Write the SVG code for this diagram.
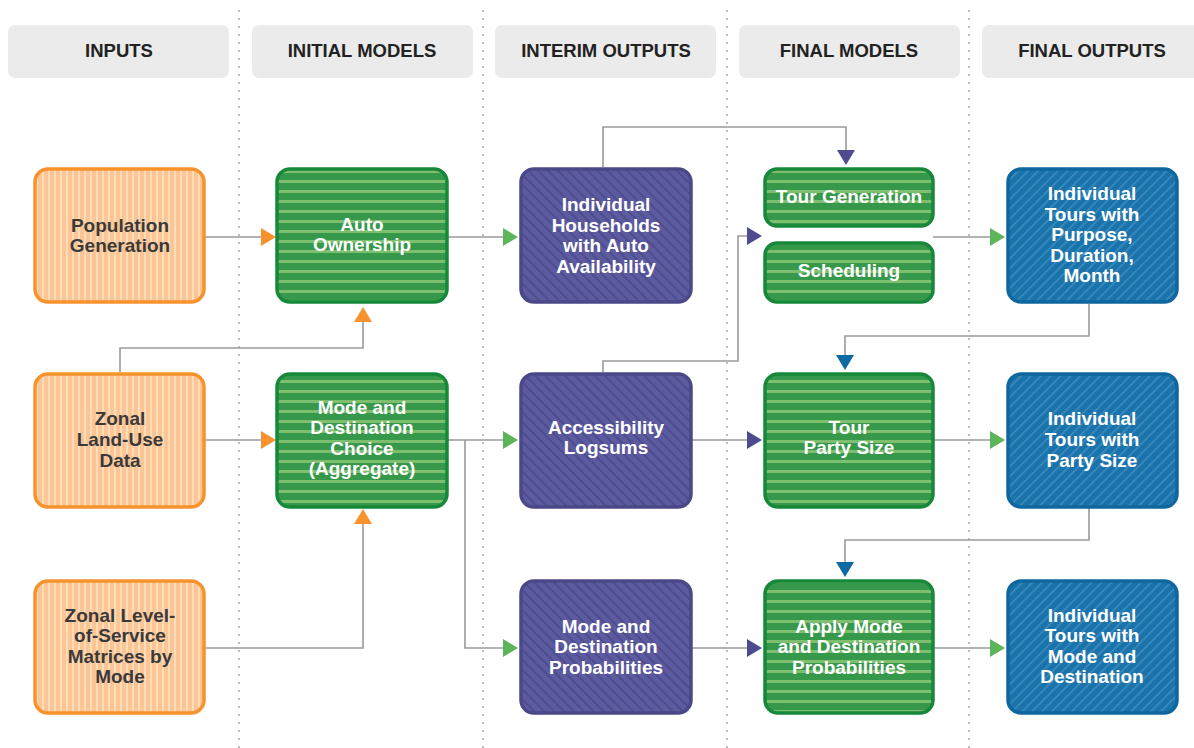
<svg xmlns="http://www.w3.org/2000/svg" width="1194" height="748" viewBox="0 0 1194 748">
<defs>
<pattern id="pOr" patternUnits="userSpaceOnUse" width="6" height="6">
<rect width="6" height="6" fill="#FBC594"/>
<rect x="0" width="2" height="6" fill="#FDDCBC"/>
</pattern>
<pattern id="pGr" patternUnits="userSpaceOnUse" width="10" height="10">
<rect width="10" height="10" fill="#36984A"/>
<rect y="0" width="10" height="3" fill="#7DBE6F"/>
</pattern>
<pattern id="pPu" patternUnits="userSpaceOnUse" width="7" height="7" patternTransform="rotate(-45)">
<rect width="7" height="7" fill="#5D5BA0"/>
<rect width="1.6" height="7" fill="#4B498A"/>
</pattern>
<pattern id="pBl" patternUnits="userSpaceOnUse" width="7" height="7" patternTransform="rotate(45)">
<rect width="7" height="7" fill="#1A73AB"/>
<rect width="1.6" height="7" fill="#3C8CC0"/>
</pattern>
</defs>
<style>
.hdr{fill:#EBEBEB}
.ht{font-family:"Liberation Sans",Arial,sans-serif;font-weight:bold;font-size:18.5px;fill:#222222;text-anchor:middle}
.dot{stroke:#BDBDBD;stroke-width:2;stroke-dasharray:2 6;fill:none}
.or{fill:url(#pOr);stroke:#F7922D;stroke-width:3.5}
.gr{fill:url(#pGr);stroke:#16883A;stroke-width:3.5}
.pu{fill:url(#pPu);stroke:#4A4888;stroke-width:3.5}
.bl{fill:url(#pBl);stroke:#0E679F;stroke-width:3.5}
.t{font-family:"Liberation Sans",Arial,sans-serif;font-weight:bold;font-size:19px;text-anchor:middle;fill:#FFFFFF}
.td{fill:#3A3A3A}
.ln{stroke:#9A9A9A;stroke-width:1.6;fill:none}
.aO{fill:#F7922D}
.aG{fill:#5DB55A}
.aP{fill:#4E4B8E}
.aB{fill:#0E6AA3}
</style>
<g id="headers">
<rect class="hdr" x="8" y="25" width="221" height="53" rx="7"/>
<rect class="hdr" x="252" y="25" width="221" height="53" rx="7"/>
<rect class="hdr" x="495" y="25" width="221" height="53" rx="7"/>
<rect class="hdr" x="739" y="25" width="221" height="53" rx="7"/>
<rect class="hdr" x="982" y="25" width="221" height="53" rx="7"/>
<text class="ht" x="119" y="57">INPUTS</text>
<text class="ht" x="362" y="57">INITIAL MODELS</text>
<text class="ht" x="606" y="57">INTERIM OUTPUTS</text>
<text class="ht" x="849" y="57">FINAL MODELS</text>
<text class="ht" x="1092" y="57">FINAL OUTPUTS</text>
</g>
<g id="dividers">
<line class="dot" x1="239" y1="10" x2="239" y2="748"/>
<line class="dot" x1="483" y1="10" x2="483" y2="748"/>
<line class="dot" x1="727" y1="10" x2="727" y2="748"/>
<line class="dot" x1="969" y1="10" x2="969" y2="748"/>
</g>
<g id="connectors">
<path class="ln" d="M204 237H262"/>
<polygon class="aO" points="276,237 261,228 261,246"/>
<path class="ln" d="M448 237H504"/>
<polygon class="aG" points="518,237 503,228 503,246"/>
<path class="ln" d="M603 167V127H846V152"/>
<polygon class="aP" points="846,165 837,150 855,150"/>
<path class="ln" d="M933 237H991"/>
<polygon class="aG" points="1005,237 990,228 990,246"/>
<path class="ln" d="M120 372V348H363V320"/>
<polygon class="aO" points="363,307 354,322 372,322"/>
<path class="ln" d="M204 440H262"/>
<polygon class="aO" points="276,440 261,431 261,449"/>
<path class="ln" d="M204 648H363V522"/>
<polygon class="aO" points="363,509 354,524 372,524"/>
<path class="ln" d="M448 440H504"/>
<polygon class="aG" points="518,440 503,431 503,449"/>
<path class="ln" d="M465 440V648H504"/>
<polygon class="aG" points="518,648 503,639 503,657"/>
<path class="ln" d="M603 372V361H738V236H748"/>
<polygon class="aP" points="762,236 747,227 747,245"/>
<path class="ln" d="M692 440H748"/>
<polygon class="aP" points="762,440 747,431 747,449"/>
<path class="ln" d="M692 648H748"/>
<polygon class="aP" points="762,648 747,639 747,657"/>
<path class="ln" d="M1089 304V336H845V356"/>
<polygon class="aB" points="845,370 836,355 854,355"/>
<path class="ln" d="M933 440H991"/>
<polygon class="aG" points="1005,440 990,431 990,449"/>
<path class="ln" d="M1089 507V540H845V563"/>
<polygon class="aB" points="845,577 836,562 854,562"/>
<path class="ln" d="M933 648H991"/>
<polygon class="aG" points="1005,648 990,639 990,657"/>
</g>
<g id="n-popgen">
<rect class="or" x="35" y="169" width="169" height="133" rx="13"/>
<text class="t td" x="120" y="232">Population</text>
<text class="t td" x="120" y="252">Generation</text>
</g>
<g id="n-landuse">
<rect class="or" x="35" y="374" width="169" height="133" rx="13"/>
<text class="t td" x="120" y="425">Zonal</text>
<text class="t td" x="120" y="446">Land-Use</text>
<text class="t td" x="120" y="467">Data</text>
</g>
<g id="n-los">
<rect class="or" x="35" y="581" width="169" height="132" rx="13"/>
<text class="t td" x="120" y="622">Zonal Level-</text>
<text class="t td" x="120" y="642">of-Service</text>
<text class="t td" x="120" y="663">Matrices by</text>
<text class="t td" x="120" y="683">Mode</text>
</g>
<g id="n-auto">
<rect class="gr" x="277" y="169" width="170" height="133" rx="13"/>
<text class="t" x="362" y="231">Auto</text>
<text class="t" x="362" y="251">Ownership</text>
</g>
<g id="n-modedest">
<rect class="gr" x="277" y="374" width="170" height="133" rx="13"/>
<text class="t" x="362" y="414">Mode and</text>
<text class="t" x="362" y="434">Destination</text>
<text class="t" x="362" y="455">Choice</text>
<text class="t" x="362" y="475">(Aggregate)</text>
</g>
<g id="n-households">
<rect class="pu" x="521" y="169" width="170" height="133" rx="13"/>
<text class="t" x="606" y="211">Individual</text>
<text class="t" x="606" y="232">Households</text>
<text class="t" x="606" y="252">with Auto</text>
<text class="t" x="606" y="273">Availability</text>
</g>
<g id="n-access">
<rect class="pu" x="521" y="374" width="170" height="133" rx="13"/>
<text class="t" x="606" y="434">Accessibility</text>
<text class="t" x="606" y="454">Logsums</text>
</g>
<g id="n-probs">
<rect class="pu" x="521" y="581" width="170" height="132" rx="13"/>
<text class="t" x="606" y="633">Mode and</text>
<text class="t" x="606" y="653">Destination</text>
<text class="t" x="606" y="674">Probabilities</text>
</g>
<g id="n-tourgen">
<rect class="gr" x="765" y="169" width="168" height="57" rx="12"/>
<text class="t" x="849" y="203">Tour Generation</text>
</g>
<g id="n-sched">
<rect class="gr" x="765" y="243" width="168" height="59" rx="12"/>
<text class="t" x="849" y="277">Scheduling</text>
</g>
<g id="n-party">
<rect class="gr" x="765" y="374" width="168" height="133" rx="13"/>
<text class="t" x="849" y="434">Tour</text>
<text class="t" x="849" y="454">Party Size</text>
</g>
<g id="n-apply">
<rect class="gr" x="765" y="581" width="168" height="132" rx="13"/>
<text class="t" x="849" y="633">Apply Mode</text>
<text class="t" x="849" y="653">and Destination</text>
<text class="t" x="849" y="674">Probabilities</text>
</g>
<g id="n-tours1">
<rect class="bl" x="1008" y="169" width="169" height="133" rx="13"/>
<text class="t" x="1092" y="200">Individual</text>
<text class="t" x="1092" y="221">Tours with</text>
<text class="t" x="1092" y="241">Purpose,</text>
<text class="t" x="1092" y="262">Duration,</text>
<text class="t" x="1092" y="282">Month</text>
</g>
<g id="n-tours2">
<rect class="bl" x="1008" y="374" width="169" height="133" rx="13"/>
<text class="t" x="1092" y="425">Individual</text>
<text class="t" x="1092" y="446">Tours with</text>
<text class="t" x="1092" y="467">Party Size</text>
</g>
<g id="n-tours3">
<rect class="bl" x="1008" y="581" width="169" height="132" rx="13"/>
<text class="t" x="1092" y="622">Individual</text>
<text class="t" x="1092" y="642">Tours with</text>
<text class="t" x="1092" y="663">Mode and</text>
<text class="t" x="1092" y="683">Destination</text>
</g>
</svg>
